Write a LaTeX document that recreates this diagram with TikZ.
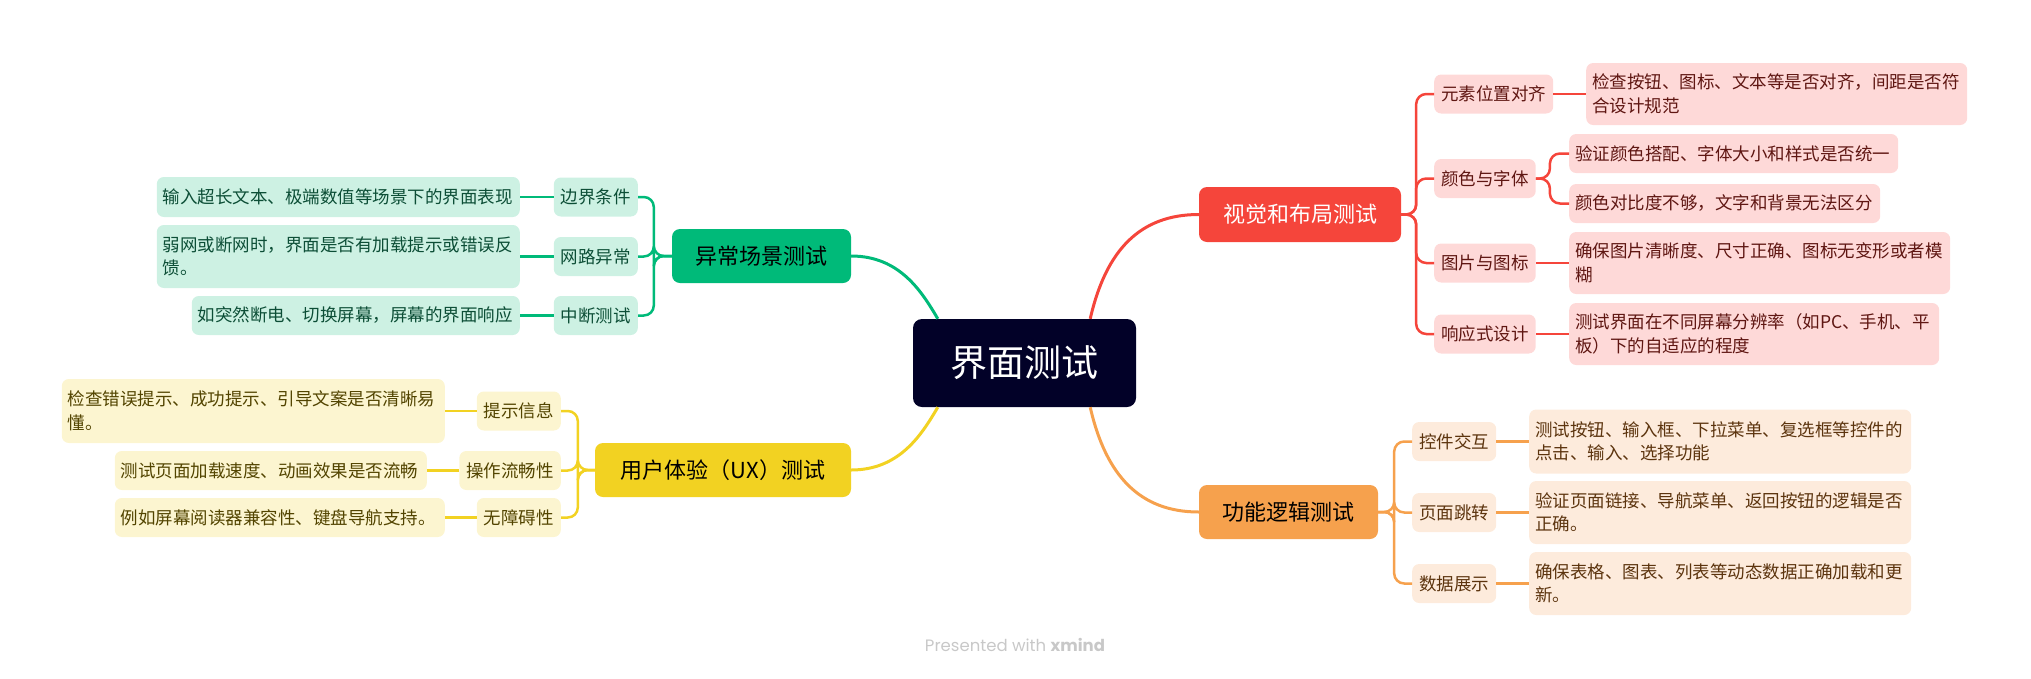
\documentclass[tikz,border=0pt]{standalone}
\usepackage{fontspec}
\setmainfont{Noto Sans CJK SC}
\newfontfamily\wmfont{Poppins}
\definecolor{cenfill}{RGB}{2,1,40}
\definecolor{rmain}{RGB}{245,69,59}
\definecolor{rlight}{RGB}{254,217,216}
\definecolor{rtext}{RGB}{95,22,18}
\definecolor{omain}{RGB}{246,161,77}
\definecolor{olight}{RGB}{253,235,220}
\definecolor{otext}{RGB}{92,52,14}
\definecolor{gmain}{RGB}{0,186,121}
\definecolor{glight}{RGB}{205,241,227}
\definecolor{gtext}{RGB}{12,78,54}
\definecolor{ymain}{RGB}{242,210,34}
\definecolor{ylight}{RGB}{252,245,208}
\definecolor{ytext}{RGB}{82,68,0}
\definecolor{wmgray}{RGB}{200,200,200}
\tikzset{
  boxbase/.style={rectangle, rounded corners=7pt, inner ysep=0pt, align=left, font=\fontsize{17.5}{23.5}\selectfont},
  lvtwo/.style={boxbase, inner xsep=7pt, minimum height=39pt},
  leafbox/.style={boxbase, inner xsep=6pt},
  mainbox/.style={rectangle, rounded corners=8pt, inner sep=0pt, minimum height=54pt, align=center, font=\fontsize{22}{26}\selectfont},
  redb/.style={fill=rlight, text=rtext},
  orab/.style={fill=olight, text=otext},
  grnb/.style={fill=glight, text=gtext},
  yelb/.style={fill=ylight, text=ytext},
  conn/.style={line width=2.5pt, rounded corners=10pt},
  curv/.style={line width=3pt},
}
\begin{document}
\begin{tikzpicture}[x=1pt,y=-1pt]
\useasboundingbox (0,0) rectangle (2031,678);
% central
\node[rectangle, rounded corners=9pt, fill=cenfill, text=white, minimum width=223pt, minimum height=88pt, inner sep=0pt, font=\fontsize{37}{40}\selectfont] (cen) at (1024.5,363) {界面测试};
% main nodes
\node[mainbox, fill=rmain, text=white, minimum width=202pt, minimum height=55pt] (rm) at (1300,214.5) {视觉和布局测试};
\node[mainbox, fill=omain, text=black, minimum width=179pt] (om) at (1288.5,512) {功能逻辑测试};
\node[mainbox, fill=gmain, text=black, minimum width=179pt] (gm) at (761.5,256) {异常场景测试};
\node[mainbox, fill=ymain, text=black, minimum width=256pt] (ym) at (723,470) {用户体验（UX）测试};
% red level 2
\node[lvtwo, redb, anchor=west] (r1) at (1434,94) {元素位置对齐};
\node[lvtwo, redb, anchor=west] (r2) at (1434,178.5) {颜色与字体};
\node[lvtwo, redb, anchor=west] (r3) at (1434,263) {图片与图标};
\node[lvtwo, redb, anchor=west] (r4) at (1434,334) {响应式设计};
% red leaves
\node[leafbox, redb, anchor=west, text width=369pt, minimum height=62pt] (r1l) at (1586,94) {检查按钮、图标、文本等是否对齐，间距是否符\\合设计规范};
\node[leafbox, redb, anchor=west, text width=317pt, minimum height=39pt] (r2a) at (1569,153.5) {验证颜色搭配、字体大小和样式是否统一};
\node[leafbox, redb, anchor=west, text width=299pt, minimum height=39pt] (r2b) at (1569,203.5) {颜色对比度不够，文字和背景无法区分};
\node[leafbox, redb, anchor=west, text width=369pt, minimum height=62pt] (r3l) at (1569,263) {确保图片清晰度、尺寸正确、图标无变形或者模\\糊};
\node[leafbox, redb, anchor=west, text width=358pt, minimum height=62pt] (r4l) at (1569,334) {测试界面在不同屏幕分辨率（如PC、手机、平\\板）下的自适应的程度};
% orange level 2
\node[lvtwo, orab, anchor=west] (o1) at (1412,441.5) {控件交互};
\node[lvtwo, orab, anchor=west] (o2) at (1412,512.5) {页面跳转};
\node[lvtwo, orab, anchor=west] (o3) at (1412,583.5) {数据展示};
\node[leafbox, orab, anchor=west, text width=370pt, minimum height=64pt] (o1l) at (1529,441.5) {测试按钮、输入框、下拉菜单、复选框等控件的\\点击、输入、选择功能};
\node[leafbox, orab, anchor=west, text width=370pt, minimum height=63pt] (o2l) at (1529,512.5) {验证页面链接、导航菜单、返回按钮的逻辑是否\\正确。};
\node[leafbox, orab, anchor=west, text width=370pt, minimum height=63pt] (o3l) at (1529,583.5) {确保表格、图表、列表等动态数据正确加载和更\\新。};
% green level 2
\node[lvtwo, grnb, anchor=east] (g1) at (638,197) {边界条件};
\node[lvtwo, grnb, anchor=east] (g2) at (638,256.5) {网路异常};
\node[lvtwo, grnb, anchor=east] (g3) at (638,315.5) {中断测试};
\node[leafbox, grnb, anchor=east, text width=351pt, minimum height=40pt] (g1l) at (520,197) {输入超长文本、极端数值等场景下的界面表现};
\node[leafbox, grnb, anchor=east, text width=351pt, minimum height=63pt] (g2l) at (520,256.5) {弱网或断网时，界面是否有加载提示或错误反\\馈。};
\node[leafbox, grnb, anchor=east, text width=316pt, minimum height=39pt] (g3l) at (520,315.5) {如突然断电、切换屏幕，屏幕的界面响应};
% yellow level 2
\node[lvtwo, yelb, anchor=east] (y1) at (561,411) {提示信息};
\node[lvtwo, yelb, anchor=east] (y2) at (561,470.5) {操作流畅性};
\node[lvtwo, yelb, anchor=east] (y3) at (561,517.5) {无障碍性};
\node[leafbox, yelb, anchor=east, text width=371pt, minimum height=64pt] (y1l) at (445,411) {检查错误提示、成功提示、引导文案是否清晰易\\懂。};
\node[leafbox, yelb, anchor=east, text width=300pt, minimum height=39pt] (y2l) at (427,470.5) {测试页面加载速度、动画效果是否流畅};
\node[leafbox, yelb, anchor=east, text width=318pt, minimum height=39pt] (y3l) at (445,517.5) {例如屏幕阅读器兼容性、键盘导航支持。};
% central curves
\draw[curv, rmain] ([xshift=-46pt]cen.north east) .. controls (1106,250) and (1140,214.5) .. (rm.west);
\draw[curv, omain] ([xshift=-46pt]cen.south east) .. controls (1106,476) and (1140,512) .. (om.west);
\draw[curv, gmain] ([xshift=25pt]cen.north west) .. controls (922,292) and (900,256) .. (gm.east);
\draw[curv, ymain] ([xshift=25pt]cen.south west) .. controls (922,434) and (900,470) .. (ym.east);
% red branches
\foreach \c in {r1,r2,r3,r4} {\draw[conn, rmain] (rm.east) -- ++(15,0) |- (\c.west);}
\draw[conn, rmain] (r1.east) -- (r1l.west);
\draw[conn, rmain] (r2.east) -- ++(14,0) |- (r2a.west);
\draw[conn, rmain] (r2.east) -- ++(14,0) |- (r2b.west);
\draw[conn, rmain] (r3.east) -- (r3l.west);
\draw[conn, rmain] (r4.east) -- (r4l.west);
% orange branches
\foreach \c in {o1,o2,o3} {\draw[conn, omain] (om.east) -- ++(16,0) |- (\c.west);}
\draw[conn, omain] (o1.east) -- (o1l.west);
\draw[conn, omain] (o2.east) -- (o2l.west);
\draw[conn, omain] (o3.east) -- (o3l.west);
% green branches
\foreach \c in {g1,g2,g3} {\draw[conn, gmain] (gm.west) -- ++(-18,0) |- (\c.east);}
\draw[conn, gmain] (g1.west) -- (g1l.east);
\draw[conn, gmain] (g2.west) -- (g2l.east);
\draw[conn, gmain] (g3.west) -- (g3l.east);
% yellow branches
\foreach \c in {y1,y2,y3} {\draw[conn, ymain] (ym.west) -- ++(-17,0) |- (\c.east);}
\draw[conn, ymain] (y1.west) -- (y1l.east);
\draw[conn, ymain] (y2.west) -- (y2l.east);
\draw[conn, ymain] (y3.west) -- (y3l.east);
% watermark
\node[text=wmgray, font=\wmfont\fontsize{16.5}{19}\selectfont, inner sep=0pt] (wm) at (1015,645) {Presented with \textbf{xmind}};
\end{tikzpicture}
\end{document}
